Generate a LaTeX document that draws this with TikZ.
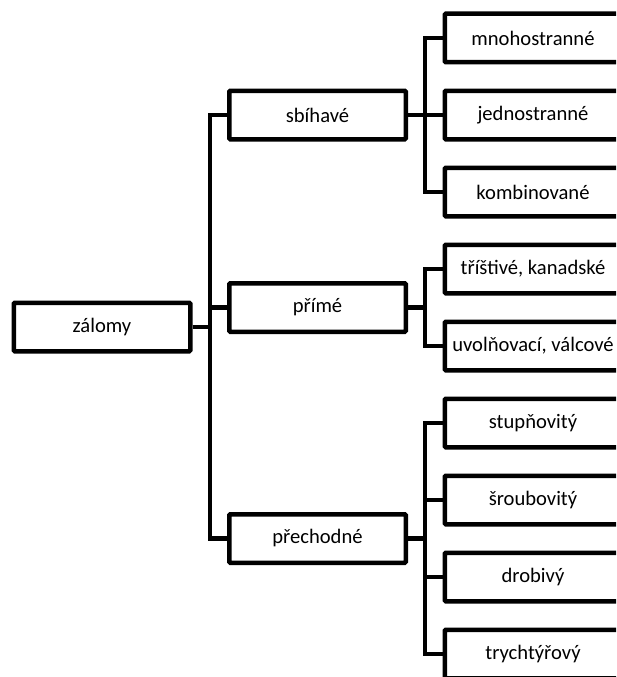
\documentclass[tikz,border=0pt]{standalone}
\usepackage{fontspec}
\setmainfont{Carlito}
\begin{document}
\begin{tikzpicture}[x=1pt,y=-1pt,
  box/.style={draw=black, line width=4.5pt, fill=white, minimum width=176.5pt,
    minimum height=48.5pt, inner sep=0pt, rounded corners=1pt,
    font=\fontsize{20.6}{24}\selectfont},
  conn/.style={draw=black, line width=4.5pt}]
\useasboundingbox (0,0) rectangle (616,677);
\clip (0,0) rectangle (616,677);
% root
\node[box] (z) at (102,327) {zálomy};
% level 1
\node[box] (s) at (317.5,115) {sbíhavé};
\node[box] (p) at (317.5,307.5) {přímé};
\node[box] (c) at (317.5,538.5) {přechodné};
% level 2
\node[box] (s1) at (533,38) {mnohostranné};
\node[box] (s2) at (533,115) {jednostranné};
\node[box] (s3) at (533,192) {kombinované};
\node[box] (p1) at (533,269) {tříštivé, kanadské};
\node[box] (p2) at (533,346) {uvolňovací, válcové};
\node[box] (c1) at (533,423) {stupňovitý};
\node[box] (c2) at (533,500) {šroubovitý};
\node[box] (c3) at (533,577) {drobivý};
\node[box] (c4) at (533,654) {trychtýřový};
% connector columns
\coordinate (t0) at (210,0);
\coordinate (t1) at (425,0);
\foreach \k in {s,p,c}{
  \draw[conn] (z.east) -| (t0 |- \k.west) -- (\k.west);
}
\foreach \k in {s1,s2,s3}{
  \draw[conn] (s.east) -| (t1 |- \k.west) -- (\k.west);
}
\foreach \k in {p1,p2}{
  \draw[conn] (p.east) -| (t1 |- \k.west) -- (\k.west);
}
\foreach \k in {c1,c2,c3,c4}{
  \draw[conn] (c.east) -| (t1 |- \k.west) -- (\k.west);
}
\end{tikzpicture}
\end{document}
